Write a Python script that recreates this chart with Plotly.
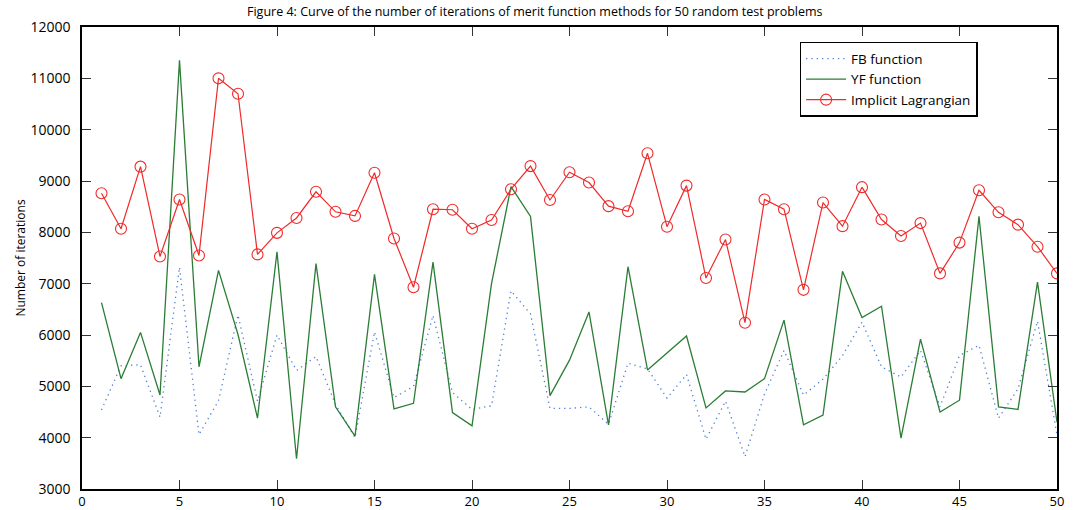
import plotly.graph_objects as go

problems = list(range(1, 51))

fb_function = [4540, 5400, 5420, 4400, 7320, 4060, 4720, 6390, 4710, 6000,
               5310, 5580, 4650, 4000, 6060, 4780, 5000, 6380, 4880, 4550,
               4620, 6860, 6410, 4570, 4570, 4600, 4260, 5450, 5340, 4770,
               5230, 3970, 4710, 3630, 4850, 5700, 4830, 5140, 5600, 6250,
               5380, 5180, 5700, 4600, 5600, 5800, 4380, 4950, 6270, 4050]

yf_function = [6630, 5150, 6050, 4830, 11350, 5380, 7260, 6010, 4380, 7620,
               3590, 7390, 4600, 4030, 7180, 4560, 4670, 7420, 4490, 4230,
               7000, 8890, 8310, 4820, 5510, 6450, 4250, 7330, 5320, 5650,
               5980, 4580, 4910, 4890, 5150, 6290, 4250, 4440, 7240, 6340,
               6560, 3990, 5920, 4500, 4730, 8310, 4600, 4550, 7030, 4300]

implicit_lagrangian = [8760, 8070, 9280, 7530, 8640, 7550, 11000, 10700, 7570, 7990,
                       8280, 8790, 8400, 8320, 9160, 7880, 6930, 8450, 8440, 8070,
                       8240, 8840, 9290, 8630, 9170, 8970, 8510, 8410, 9540, 8110,
                       8910, 7110, 7860, 6240, 8640, 8450, 6880, 8580, 8120, 8880,
                       8250, 7930, 8180, 7200, 7800, 8820, 8390, 8150, 7720, 7200]

title_text = "Figure 4: Curve of the number of iterations of merit function methods for 50 random test problems"
font_family = "Open Sans"

fig = go.Figure()
fig.add_trace(go.Scatter(
    x=problems, y=fb_function, mode="lines", name="FB function",
    line=dict(color="#4f7fd6", width=1.3, dash="1.3px,4px"),
))
fig.add_trace(go.Scatter(
    x=problems, y=yf_function, mode="lines", name="YF function",
    line=dict(color="#2b7d35", width=1.3),
))
fig.add_trace(go.Scatter(
    x=problems, y=implicit_lagrangian, mode="lines+markers", name="Implicit Lagrangian",
    line=dict(color="#f02a2a", width=1.2),
    marker=dict(symbol="circle-open", size=11, color="#f02a2a", line=dict(width=1.1)),
))

fig.update_layout(
    template="none",
    width=1076, height=510,
    margin=dict(l=82, r=19, t=27, b=21, autoexpand=False),
    paper_bgcolor="white", plot_bgcolor="white",
    font=dict(family=font_family, size=13, color="black"),
    title=dict(text=title_text, x=0.497, xanchor="center", y=0.977, yanchor="middle",
               font=dict(family=font_family, size=12.5, color="black")),
    showlegend=True,
    legend=dict(x=0.736, y=0.968, xanchor="left", yanchor="top",
                bordercolor="black", borderwidth=1.5, bgcolor="white",
                font=dict(family=font_family, size=13.5, color="black"),
                tracegroupgap=0, itemwidth=40),
)
fig.update_xaxes(
    range=[0, 50], dtick=5, tick0=0, automargin=False,
    showgrid=False, zeroline=False,
    showline=True, linecolor="black", linewidth=1.5, mirror="allticks",
    ticks="inside", ticklen=9, tickcolor="#333333", tickwidth=1,
    tickfont=dict(family=font_family, size=13, color="black"),
    tickformat="d",
)
fig.update_yaxes(
    range=[3000, 12000], dtick=1000, tick0=3000, automargin=False,
    showgrid=False, zeroline=False,
    showline=True, linecolor="black", linewidth=1.5, mirror="allticks",
    ticks="inside", ticklen=9, tickcolor="#333333", tickwidth=1,
    tickfont=dict(family=font_family, size=14, color="black"),
    tickformat="d", ticksuffix="\u2002",
    title=dict(text="Number of iterations", standoff=2,
               font=dict(family=font_family, size=12, color="black")),
)

fig.write_html("out.html")
